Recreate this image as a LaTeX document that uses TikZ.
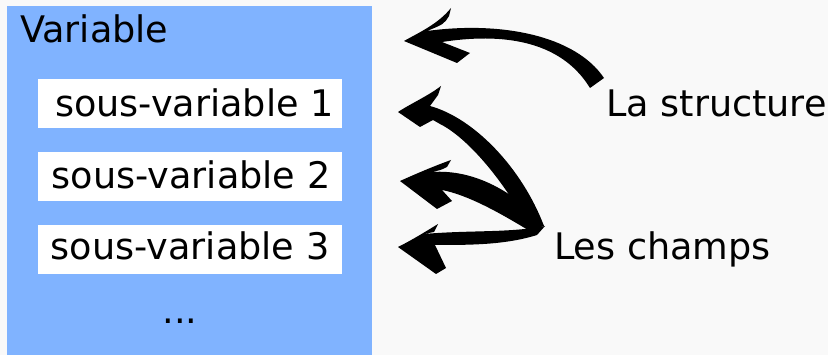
\documentclass[tikz,border=0pt]{standalone}
\usepackage{fontspec}
\setmainfont{DejaVu Sans}
\definecolor{bgc}{HTML}{F9F9F9}
\definecolor{varblue}{HTML}{80B3FF}
\begin{document}
\begin{tikzpicture}[x=1pt,y=-1pt,
  lbl/.style={inner sep=0pt,font=\fontsize{36.6}{40}\selectfont},
  subbox/.style={fill=white,draw=none},
  callig/.style={fill=black,draw=none}]
\path[fill=bgc,use as bounding box] (0,0) rectangle (828,355);
% main variable block
\fill[varblue] (7,6) rectangle (372,355);
\node[lbl,anchor=base west] (var) at (20,43) {Variable};
% sub-variable boxes
\fill[subbox] (38,79.3) rectangle (342,127.7);
\fill[subbox] (38,151.7) rectangle (342,200.7);
\fill[subbox] (38,225) rectangle (342,273.7);
\node[lbl,anchor=base] (sv1) at (194.5,116.7) {sous-variable 1};
\node[lbl,anchor=base] (sv2) at (191,188.3) {sous-variable 2};
\node[lbl,anchor=base] (sv3) at (190,259.3) {sous-variable 3};
\node[lbl,anchor=base] (dots) at (180,323.3) {...};
% labels
\node[lbl,anchor=base west] (struct) at (606,116.7) {La structure};
\node[lbl,anchor=base west] (champs) at (554,259.3) {Les champs};
% arrow 1 : La structure -> Variable
\fill[callig] (404,41) .. controls (420,32) and (438,24) .. (451,8)
  -- (449,16) .. controls (444,24) .. (427,31)
  .. controls (500,21) and (575,35) .. (604,78) -- (590,88)
  .. controls (560,39) and (500,33) .. (442,42)
  -- (470,53) -- (457,63) -- cycle;
% arrow 2 : Les champs -> sous-variable 1
\fill[callig] (398,112) .. controls (410,104) and (428,96) .. (441,86)
  -- (438,95) .. controls (434,100) .. (430,106)
  .. controls (474,118) and (522,168) .. (544,226)
  -- (530,230)
  .. controls (505,182) and (468,138) .. (440,124)
  -- (433,120) -- (420,127) -- cycle;
% arrow 3 : Les champs -> sous-variable 2
\fill[callig] (400,181) .. controls (420,172) and (437,165) .. (451,160)
  -- (447,167) .. controls (441,170) .. (432,172)
  .. controls (474,169) and (516,192) .. (544,226)
  -- (528,230)
  .. controls (500,213) and (468,195) .. (442,190)
  -- (452,201) -- (437,209) -- cycle;
% arrow 4 : Les champs -> sous-variable 3
\fill[callig] (398,247) .. controls (412,240) and (425,232) .. (438,224)
  -- (434,232) -- (424,234)
  .. controls (470,230) and (510,233) .. (545,226)
  -- (537,235)
  .. controls (505,245) and (470,245) .. (435,245)
  -- (446,268) -- (436,274) -- cycle;
\end{tikzpicture}
\end{document}
